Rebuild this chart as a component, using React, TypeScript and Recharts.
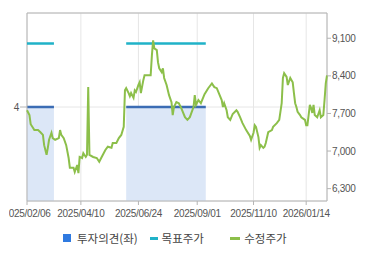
import React from 'react';
import {
  ComposedChart, Line, Area, XAxis, YAxis, CartesianGrid, Legend, ReferenceArea
} from 'recharts';

// trading-day index (0 = 2025/02/06) and adjusted close
const priceSeries: [number, number][] = [
  [0, 7760], [2, 7670], [3, 7500], [5, 7430], [6, 7390], [9, 7390], [11, 7350], [13, 7300],
  [14, 7110], [16, 6930], [17, 7060], [18, 7210], [20, 7340], [21, 7240], [23, 7210], [26, 7240],
  [27, 7390], [28, 7300], [30, 7240], [32, 7110], [34, 6870], [35, 6690], [38, 6690], [39, 6610],
  [41, 6740], [42, 6590], [43, 6890], [45, 6870], [46, 6960], [48, 6890], [49, 6930], [50, 8190],
  [51, 6930], [54, 6890], [57, 6870], [59, 6800], [61, 6890], [64, 7020], [66, 7080], [69, 7060],
  [70, 7150], [73, 7150], [75, 7240], [77, 7300], [79, 7450], [80, 8130], [81, 8170], [83, 8080],
  [84, 8020], [85, 8080], [87, 7990], [88, 8130], [89, 8100], [91, 8230], [92, 8280], [93, 8080],
  [95, 8320], [96, 8410], [99, 8410], [101, 8410], [102, 8780], [103, 9060], [104, 8910], [106, 8880],
  [107, 8650], [108, 8540], [110, 8470], [111, 8540], [112, 8360], [114, 8230], [116, 8040], [118, 7910],
  [119, 7670], [120, 7820], [122, 7910], [124, 7890], [126, 7800], [129, 7630], [131, 7580], [133, 7630],
  [136, 7820], [137, 8040], [138, 7860], [140, 7950], [142, 7890], [145, 8060], [148, 8170], [151, 8260],
  [153, 8190], [155, 8170], [157, 8060], [159, 7950], [160, 7820], [161, 7890], [163, 7760], [164, 7630],
  [166, 7580], [168, 7690], [171, 7760], [172, 7730], [174, 7630], [176, 7520], [179, 7390], [182, 7280],
  [183, 7210], [185, 7340], [186, 7480], [187, 7450], [189, 7260], [190, 7060], [191, 7110], [193, 7060],
  [194, 7080], [195, 7150], [197, 7350], [200, 7390], [201, 7450], [204, 7520], [206, 7580], [208, 7890],
  [209, 8360], [210, 8450], [212, 8380], [213, 8230], [215, 8360], [217, 8280], [218, 8080], [219, 7890],
  [220, 7820], [221, 7730], [223, 7670], [224, 7630], [227, 7580], [228, 7480], [229, 7480], [231, 7860],
  [232, 7800], [233, 7710], [234, 7860], [235, 7670], [237, 7630], [239, 7760], [240, 7630], [242, 7670],
  [243, 7950], [244, 8260], [245, 8410],
];

// periods with a published opinion / target price: [from, to]
const coveragePeriods: [number, number][] = [[0, 22], [81, 146]];
const opinionValue = 4;
const targetPrice = 9000;

const dateTicks = [0, 44, 91, 139, 185, 228];
const dateLabels = ['2025/02/06', '2025/04/10', '2025/06/24', '2025/09/01', '2025/11/10', '2026/01/14'];
const priceTicks = [6300, 7000, 7700, 8400, 9100];
const opinionTicks = [4];

const lastDay = 245;
const priceDomain: [number, number] = [6070, 9570];

const inCoverage = (d: number) => coveragePeriods.some(([a, b]) => d >= a && d <= b);

const days = Array.from(new Set([
  ...priceSeries.map(p => p[0]),
  ...coveragePeriods.flat(),
])).sort((a, b) => a - b);

const priceMap = new Map(priceSeries);

const data = days.map(d => ({
  day: d,
  price: priceMap.has(d) ? priceMap.get(d) : null,
  opinion: inCoverage(d) ? opinionValue : null,
  target: inCoverage(d) ? targetPrice : null,
}));

const tickFont = {
  fontFamily: '"Liberation Sans", Arial, sans-serif',
  fontSize: 10,
  letterSpacing: -0.3,
  fill: '#555',
};

const ChartLegend = () => (
  <div style={{
    display: 'flex', alignItems: 'center', height: 22, paddingLeft: 63, paddingTop: 2,
    fontFamily: '"Noto Sans CJK KR", sans-serif', fontSize: 11.5, color: '#444',
  }}>
    <div style={{ display: 'flex', alignItems: 'center', width: 86.6 }}>
      <span style={{ width: 8, height: 8, background: '#2f7ae0', marginRight: 6 }} />
      <span>투자의견(좌)</span>
    </div>
    <div style={{ display: 'flex', alignItems: 'center', width: 80.7 }}>
      <span style={{ width: 8, height: 3, background: '#20b2c8', marginRight: 4 }} />
      <span>목표주가</span>
    </div>
    <div style={{ display: 'flex', alignItems: 'center' }}>
      <span style={{ width: 10, height: 3, background: '#8cbf4a', marginRight: 4 }} />
      <span>수정주가</span>
    </div>
  </div>
);

export default function App() {
  return (
    <div style={{ width: 370, height: 255, clipPath: 'inset(0 0 0 9px)' }}>
      <style>{'body{margin:0}'}</style>
      <ComposedChart
        width={370}
        height={255}
        data={data}
        margin={{ top: 13, right: 0, left: 0, bottom: 8 }}
      >
        <CartesianGrid yAxisId="left" stroke="#e6e6e6" />
        <XAxis
          dataKey="day"
          type="number"
          domain={[0, lastDay]}
          ticks={dateTicks}
          interval={0}
          tickFormatter={(v: number) => dateLabels[dateTicks.indexOf(v)] ?? ''}
          tick={tickFont}
          tickSize={4}
          tickMargin={5}
          tickLine={{ stroke: '#b4b4b4' }}
          axisLine={false}
          height={24}
        />
        <YAxis
          yAxisId="left"
          domain={[0, 8]}
          ticks={opinionTicks}
          tick={tickFont}
          tickSize={7}
          tickMargin={1}
          tickLine={{ stroke: '#b4b4b4' }}
          axisLine={false}
          width={27}
        />
        <YAxis
          yAxisId="right"
          orientation="right"
          domain={priceDomain}
          ticks={priceTicks}
          allowDataOverflow
          tickFormatter={(v: number) => v.toLocaleString('en-US')}
          tick={tickFont}
          tickSize={4}
          tickMargin={1}
          tickLine={{ stroke: '#b4b4b4' }}
          axisLine={false}
          width={43}
        />
        <Legend verticalAlign="bottom" content={<ChartLegend />} wrapperStyle={{ left: 0, width: 370, height: 22 }} />
        <Area
          yAxisId="left"
          dataKey="opinion"
          type="linear"
          stroke="#3b6cb4"
          strokeWidth={2.5}
          fill="#dce7f7"
          fillOpacity={1}
          dot={false}
          activeDot={false}
          isAnimationActive={false}
        />
        <Line
          yAxisId="right"
          dataKey="target"
          type="linear"
          stroke="#20b2c8"
          strokeWidth={2.5}
          dot={false}
          activeDot={false}
          isAnimationActive={false}
        />
        <Line
          yAxisId="right"
          dataKey="price"
          type="linear"
          stroke="#8cbf4a"
          strokeWidth={2}
          dot={false}
          activeDot={false}
          connectNulls
          isAnimationActive={false}
        />
        <ReferenceArea
          yAxisId="right"
          x1={0}
          x2={lastDay}
          y1={priceDomain[0]}
          y2={priceDomain[1]}
          fill="none"
          stroke="#b4b4b4"
          ifOverflow="visible"
        />
      </ComposedChart>
    </div>
  );
}
